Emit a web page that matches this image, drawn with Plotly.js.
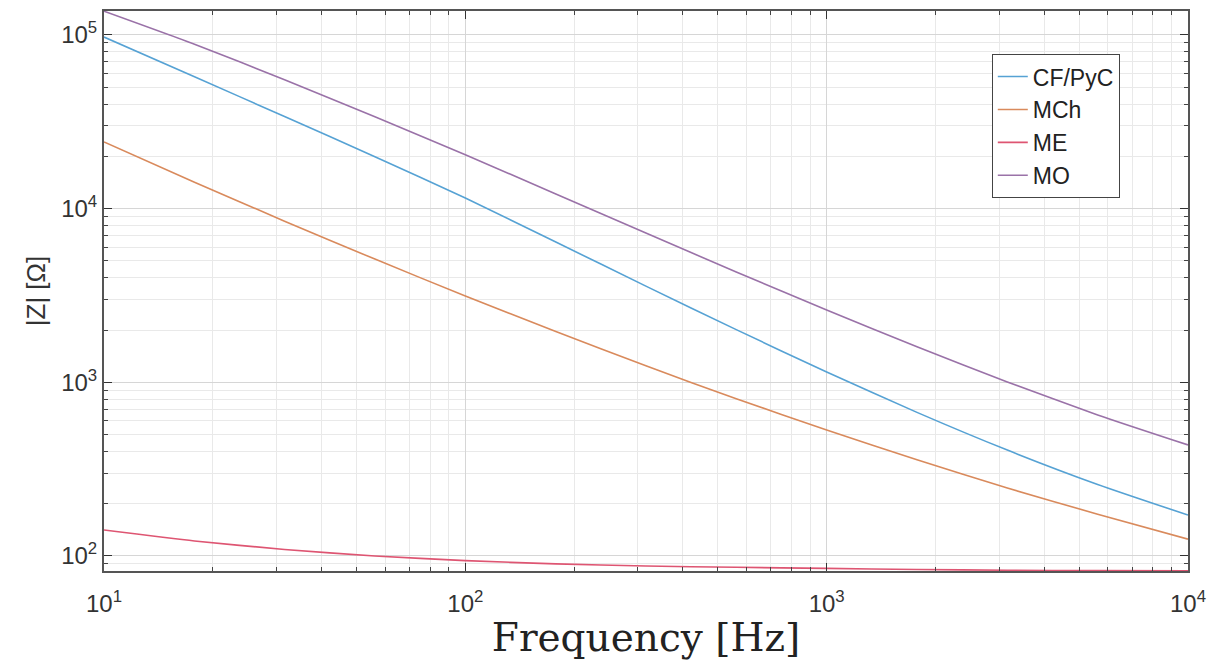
<!DOCTYPE html>
<html>
<head>
<meta charset="utf-8">
<script src="https://cdn.plot.ly/plotly-3.0.1.min.js"></script>
<style>html,body{margin:0;padding:0;background:#fff;}#chart{width:1210px;height:670px;}</style>
</head>
<body>
<div id="chart"></div>
<script>
// Frequencies [Hz]
const freq = [10, 17.8, 31.6, 56.2, 100, 178, 316, 562, 1000, 1778, 3162, 5623, 10000];
// |Z| [Ohm]
const zCF  = [97300, 57500, 33900, 19900, 11500, 6420, 3580, 2010, 1146, 671, 407, 258, 172];
const zMCh = [24200, 14200, 8470, 5120, 3140, 1960, 1244, 804, 531, 358, 246, 174, 125];
const zME  = [141, 122, 109, 100, 94, 90, 87.5, 86, 84.8, 83.6, 82.8, 82.3, 82.1];
const zMO  = [137000, 88400, 55300, 33800, 20400, 12150, 7230, 4320, 2610, 1600, 1004, 649, 436];

const seriesNames = ['CF/PyC', 'MCh', 'ME', 'MO'];
const seriesColors = ['#56a2d4', '#d98a5c', '#de5572', '#9a72a8'];

const xTickVals = [10, 100, 1000, 10000];
const xTickText = ['10<sup>1</sup>', '10<sup>2</sup>', '10<sup>3</sup>', '10<sup>4</sup>'];
const yTickVals = [100, 1000, 10000, 100000];
const yTickText = ['10<sup>2</sup>', '10<sup>3</sup>', '10<sup>4</sup>', '10<sup>5</sup>'];

function minorVals(lo, hi) {
  const v = [];
  for (let d = lo; d < hi; d *= 10) for (let k = 2; k <= 9; k++) v.push(d * k);
  return v;
}

const ys = [zCF, zMCh, zME, zMO];
const traces = ys.map((y, i) => ({
  x: freq, y: y, type: 'scatter', mode: 'lines', name: seriesNames[i],
  line: {color: seriesColors[i], width: 1.6, shape: 'spline', smoothing: 0.6}
}));

const axisCommon = {
  type: 'log',
  tickmode: 'array',
  showline: true, linecolor: '#555', linewidth: 2, mirror: 'allticks',
  ticks: 'inside', ticklen: 8, tickcolor: '#333', tickwidth: 1,
  showgrid: true, gridcolor: '#d6d6d6', gridwidth: 1,
  zeroline: false,
  tickfont: {family: 'Liberation Sans, Arial, sans-serif', size: 24, color: '#333'}
};

const layout = {
  width: 1210, height: 670,
  margin: {l: 104, r: 22, t: 11, b: 99},
  paper_bgcolor: '#fff', plot_bgcolor: '#fff',
  showlegend: true,
  xaxis: Object.assign({}, axisCommon, {
    range: [1, 4],
    tickvals: xTickVals, ticktext: xTickText,
    ticklabelstandoff: 10,
    minor: {tickmode: 'array', tickvals: minorVals(10, 10000), ticks: 'inside', ticklen: 4, tickcolor: '#444', showgrid: true, gridcolor: '#e9e9e9', gridwidth: 1},
    title: {text: 'Frequency [Hz]', font: {family: 'DejaVu Serif, serif', size: 39, color: '#222'}, standoff: 8}
  }),
  yaxis: Object.assign({}, axisCommon, {
    range: [Math.log10(81.9), 5.138],
    tickvals: yTickVals, ticktext: yTickText,
    ticklabelstandoff: 0,
    minor: {tickmode: 'array', tickvals: minorVals(10, 1000000), ticks: 'inside', ticklen: 4, tickcolor: '#444', showgrid: true, gridcolor: '#e9e9e9', gridwidth: 1},
    title: {text: '|Z| [Ω]', font: {family: 'Liberation Sans, Arial, sans-serif', size: 26, color: '#333'}, standoff: 8}
  }),
  legend: {
    x: 0.819, y: 0.923, xanchor: 'left', yanchor: 'top',
    bgcolor: '#fff', bordercolor: '#444', borderwidth: 1,
    font: {family: 'Liberation Sans, Arial, sans-serif', size: 23, color: '#222'},
    itemwidth: 30, tracegroupgap: 0
  }
};

Plotly.newPlot('chart', traces, layout, {displayModeBar: false, staticPlot: true});
</script>
</body>
</html>
